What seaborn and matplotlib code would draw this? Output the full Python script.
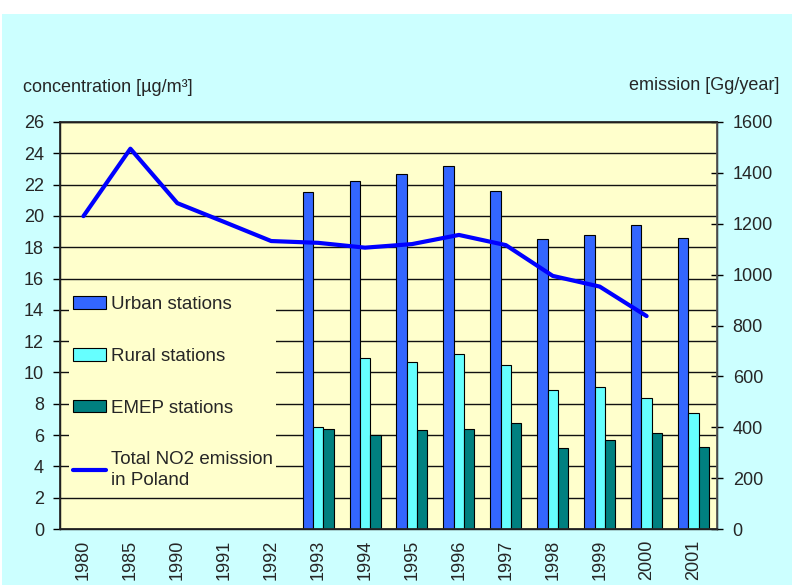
import matplotlib
matplotlib.use('Agg')

import matplotlib.pyplot as plt
from matplotlib.patches import Rectangle, Patch
from matplotlib.lines import Line2D
from matplotlib.ticker import MultipleLocator, FixedLocator
import seaborn as sns
import pandas as pd
import numpy as np

# data
years = ['1980', '1985', '1990', '1991', '1992', '1993', '1994', '1995',
         '1996', '1997', '1998', '1999', '2000', '2001']
station_years = ['1993', '1994', '1995', '1996', '1997', '1998', '1999', '2000', '2001']
urban = [21.5, 22.2, 22.7, 23.2, 21.6, 18.5, 18.8, 19.4, 18.6]
rural = [6.5, 10.95, 10.7, 11.2, 10.5, 8.9, 9.1, 8.4, 7.4]
emep = [6.4, 6.0, 6.35, 6.4, 6.75, 5.2, 5.7, 6.15, 5.25]
emission_years = ['1980', '1985', '1990', '1991', '1992', '1993', '1994',
                  '1995', '1996', '1997', '1998', '1999', '2000']
emission = [1230, 1495, 1281, 1207, 1132, 1125, 1106, 1120, 1156, 1116, 995, 953, 837]

series_names = ['Urban stations', 'Rural stations', 'EMEP stations']
line_name = 'Total NO2 emission\nin Poland'
colors = {'Urban stations': '#3366FF', 'Rural stations': '#66FFFF', 'EMEP stations': '#008080'}
line_color = '#0000FF'

sns.set_theme(style='white')
plt.rcParams['font.family'] = ['Liberation Sans', 'DejaVu Sans']

df = pd.DataFrame({
    'year': station_years * 3,
    'value': urban + rural + emep,
    'type': [n for n in series_names for _ in station_years],
})

fig = plt.figure(figsize=(7.92, 5.85), dpi=100, facecolor='white')
# cyan chart area below a thin white strip
fig.add_artist(Rectangle((2 / 792, 0), 1, (585 - 14) / 585, transform=fig.transFigure,
                         facecolor='#CCFFFF', edgecolor='none', zorder=-5))

ax = fig.add_axes([60 / 792, 56 / 585, 657 / 792, 407 / 585])
ax.set_facecolor('#FFFFCC')

sns.barplot(data=df, x='year', y='value', hue='type', order=years, hue_order=series_names,
            palette=colors, width=0.66, dodge=True, errorbar=None, legend=False,
            edgecolor='black', linewidth=0.8, saturation=1, ax=ax)

ax.set_xlim(-0.5, len(years) - 0.5)
ax.set_ylim(0, 26)
ax.yaxis.set_major_locator(MultipleLocator(2))
ax.yaxis.grid(True, color='#111111', linewidth=1)
ax.set_axisbelow(True)
ax.set_xlabel('')
ax.set_ylabel('')
for s in ax.spines.values():
    s.set_color('black')
    s.set_linewidth(1)

ax.xaxis.set_minor_locator(FixedLocator(np.arange(-0.5, len(years), 1)))
ax.tick_params(axis='x', which='major', length=0, pad=8, labelsize=13, labelrotation=90)
ax.tick_params(axis='x', which='minor', direction='inout', length=8.6, width=1, color='black')
ax.tick_params(axis='y', which='major', direction='out', length=5, width=1, pad=6.5,
               labelsize=13, color='black', left=True)

ax2 = ax.twinx()
sns.lineplot(x=[years.index(y) for y in emission_years], y=emission, color=line_color,
             linewidth=3, ax=ax2)
ax2.set_ylim(0, 1600)
ax2.yaxis.set_major_locator(MultipleLocator(200))
ax2.tick_params(axis='y', direction='inout', length=8.6, width=1, pad=7,
                labelsize=13, color='black', right=True)
ax2.spines['right'].set_color('#555555')
ax2.set_xlim(-0.5, len(years) - 0.5)

fig.text(23 / 792, 1 - 92 / 585, 'concentration [µg/m³]', fontsize=13, ha='left', va='baseline')
fig.text(779 / 792, 1 - 90 / 585, 'emission [Gg/year]', fontsize=13, ha='right', va='baseline')

handles = [Patch(facecolor=colors[n], edgecolor='black', linewidth=0.8) for n in series_names]
handles.append(Line2D([], [], color=line_color, linewidth=3))
leg = ax2.legend(handles, series_names + [line_name], loc='center left',
                 bbox_to_anchor=(0.014, 0.335), borderaxespad=0, borderpad=0.2,
                 fontsize=13.5, labelspacing=1.85, handlelength=1.76, handleheight=0.65,
                 handletextpad=0.25, frameon=True, fancybox=False, framealpha=1,
                 facecolor='#FFFFCC', edgecolor='none')
for t in leg.get_texts():
    t.set_linespacing(1.3)

fig.savefig('out.png', dpi=100, facecolor=fig.get_facecolor())
